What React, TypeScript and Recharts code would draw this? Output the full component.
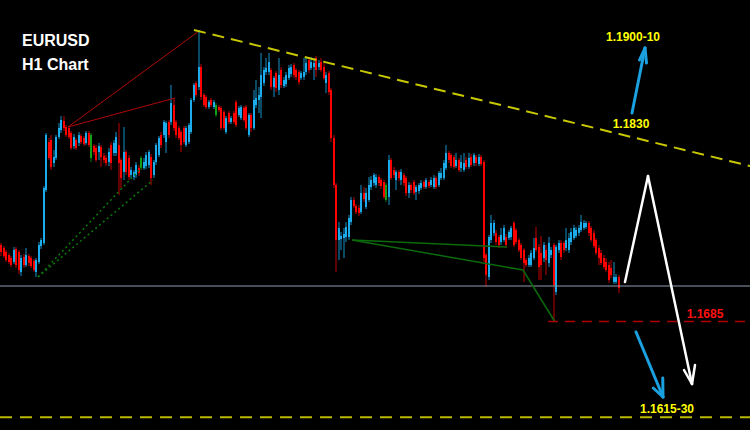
import React from 'react';
import { ComposedChart, Bar, XAxis, YAxis, ReferenceLine, ReferenceDot } from 'recharts';

// EURUSD H1 candles (price), one entry per hour
const candleOpen = [
  1.17385, 1.17364, 1.17336, 1.17315, 1.17294, 1.17266, 1.17357, 1.17336, 1.17196, 1.17301,
  1.17245, 1.17308, 1.17294, 1.17273, 1.17196, 1.17266, 1.17378, 1.17399, 1.17770, 1.18106,
  1.18120, 1.17959, 1.17994, 1.18141, 1.18190, 1.18253, 1.18211, 1.18204, 1.18169, 1.18078,
  1.18120, 1.18099, 1.18148, 1.18134, 1.18099, 1.18169, 1.17994, 1.18078, 1.18064, 1.18036,
  1.18071, 1.18008, 1.17994, 1.17966, 1.18085, 1.18029, 1.18029, 1.18085, 1.17980, 1.17896,
  1.18036, 1.17994, 1.17875, 1.17861, 1.17875, 1.17924, 1.17924, 1.17924, 1.17938, 1.17945,
  1.18001, 1.17875, 1.17966, 1.18015, 1.18155, 1.18155, 1.18106, 1.18246, 1.18246, 1.18365,
  1.18246, 1.18204, 1.18176, 1.18204, 1.18085, 1.18106, 1.18176, 1.18400, 1.18519, 1.18491,
  1.18631, 1.18435, 1.18421, 1.18351, 1.18400, 1.18351, 1.18295, 1.18351, 1.18344, 1.18316,
  1.18176, 1.18309, 1.18246, 1.18309, 1.18386, 1.18295, 1.18274, 1.18344, 1.18351, 1.18155,
  1.18295, 1.18204, 1.18365, 1.18400, 1.18421, 1.18519, 1.18596, 1.18596, 1.18610, 1.18491,
  1.18589, 1.18470, 1.18610, 1.18498, 1.18512, 1.18554, 1.18582, 1.18645, 1.18610, 1.18596,
  1.18554, 1.18561, 1.18596, 1.18680, 1.18624, 1.18631, 1.18694, 1.18631, 1.18666, 1.18631,
  1.18519, 1.18589, 1.18470, 1.18134, 1.17805, 1.17420, 1.17427, 1.17434, 1.17441, 1.17441,
  1.17546, 1.17700, 1.17658, 1.17644, 1.17616, 1.17749, 1.17651, 1.17700, 1.17791, 1.17819,
  1.17805, 1.17861, 1.17840, 1.17826, 1.17700, 1.17721, 1.17980, 1.17910, 1.17840, 1.17896,
  1.17840, 1.17875, 1.17854, 1.17749, 1.17805, 1.17826, 1.17756, 1.17763, 1.17784, 1.17826,
  1.17791, 1.17826, 1.17805, 1.17791, 1.17854, 1.17805, 1.17854, 1.17854, 1.17924, 1.18029,
  1.18015, 1.18001, 1.17938, 1.17980, 1.17924, 1.17910, 1.17980, 1.17931, 1.18001, 1.17959,
  1.18001, 1.17952, 1.18001, 1.17966, 1.17315, 1.17161, 1.17420, 1.17469, 1.17469, 1.17441,
  1.17406, 1.17420, 1.17441, 1.17434, 1.17441, 1.17539, 1.17490, 1.17420, 1.17385, 1.17350,
  1.17280, 1.17245, 1.17245, 1.17294, 1.17434, 1.17371, 1.17329, 1.17294, 1.17350, 1.17259,
  1.17315, 1.17385, 1.17056, 1.17350, 1.17399, 1.17399, 1.17364, 1.17350, 1.17406, 1.17434,
  1.17448, 1.17469, 1.17490, 1.17504, 1.17511, 1.17539, 1.17504, 1.17469, 1.17420, 1.17364,
  1.17329, 1.17294, 1.17266, 1.17245, 1.17224, 1.17126, 1.17126, 1.17161,
];

const candleHigh = [
  1.17399, 1.17378, 1.17350, 1.17329, 1.17308, 1.17371, 1.17371, 1.17350, 1.17315, 1.17322,
  1.17364, 1.17322, 1.17308, 1.17287, 1.17294, 1.17406, 1.17434, 1.17798, 1.18169, 1.18134,
  1.18155, 1.18050, 1.18155, 1.18239, 1.18288, 1.18288, 1.18225, 1.18211, 1.18183, 1.18162,
  1.18134, 1.18176, 1.18162, 1.18148, 1.18183, 1.18183, 1.18169, 1.18092, 1.18085, 1.18099,
  1.18085, 1.18029, 1.18015, 1.18064, 1.18106, 1.18120, 1.18176, 1.18239, 1.17994, 1.18211,
  1.18050, 1.18015, 1.17931, 1.17910, 1.17966, 1.17945, 1.18008, 1.17994, 1.18036, 1.18050,
  1.18022, 1.17980, 1.18099, 1.18148, 1.18176, 1.18260, 1.18253, 1.18260, 1.18505, 1.18414,
  1.18260, 1.18218, 1.18190, 1.18218, 1.18218, 1.18239, 1.18414, 1.18519, 1.18533, 1.18890,
  1.18652, 1.18449, 1.18435, 1.18400, 1.18414, 1.18400, 1.18379, 1.18365, 1.18358, 1.18330,
  1.18288, 1.18323, 1.18288, 1.18323, 1.18400, 1.18358, 1.18365, 1.18358, 1.18365, 1.18309,
  1.18309, 1.18470, 1.18540, 1.18491, 1.18729, 1.18631, 1.18694, 1.18729, 1.18624, 1.18568,
  1.18603, 1.18694, 1.18631, 1.18561, 1.18596, 1.18645, 1.18652, 1.18659, 1.18624, 1.18610,
  1.18603, 1.18694, 1.18694, 1.18701, 1.18701, 1.18694, 1.18708, 1.18680, 1.18694, 1.18659,
  1.18596, 1.18603, 1.18484, 1.18155, 1.17819, 1.17546, 1.17476, 1.17504, 1.17546, 1.17595,
  1.17721, 1.17721, 1.17672, 1.17665, 1.17805, 1.17791, 1.17784, 1.17861, 1.17868, 1.17889,
  1.17882, 1.17875, 1.17854, 1.17840, 1.17819, 1.18015, 1.17994, 1.17931, 1.17910, 1.17910,
  1.17917, 1.17889, 1.17868, 1.17826, 1.17819, 1.17840, 1.17805, 1.17819, 1.17840, 1.17840,
  1.17854, 1.17840, 1.17861, 1.17875, 1.17868, 1.17903, 1.17924, 1.17980, 1.18085, 1.18043,
  1.18029, 1.18015, 1.18029, 1.17994, 1.18015, 1.18029, 1.18001, 1.18029, 1.18022, 1.18029,
  1.18015, 1.18022, 1.18015, 1.17980, 1.17329, 1.17455, 1.17595, 1.17560, 1.17490, 1.17455,
  1.17504, 1.17525, 1.17462, 1.17490, 1.17518, 1.17553, 1.17504, 1.17434, 1.17399, 1.17364,
  1.17294, 1.17315, 1.17350, 1.17434, 1.17511, 1.17392, 1.17448, 1.17406, 1.17385, 1.17441,
  1.17371, 1.17399, 1.17385, 1.17420, 1.17420, 1.17413, 1.17504, 1.17469, 1.17504, 1.17525,
  1.17511, 1.17525, 1.17595, 1.17560, 1.17553, 1.17553, 1.17518, 1.17490, 1.17434, 1.17385,
  1.17350, 1.17315, 1.17294, 1.17266, 1.17280, 1.17266, 1.17182, 1.17175,
];

const candleLow = [
  1.17308, 1.17294, 1.17266, 1.17252, 1.17231, 1.17252, 1.17224, 1.17182, 1.17168, 1.17224,
  1.17231, 1.17238, 1.17224, 1.17196, 1.17161, 1.17252, 1.17357, 1.17385, 1.17756, 1.17980,
  1.17910, 1.17931, 1.17980, 1.18127, 1.18169, 1.18183, 1.18141, 1.18127, 1.18050, 1.18057,
  1.18050, 1.18078, 1.18092, 1.18078, 1.18085, 1.18071, 1.17966, 1.18015, 1.17966, 1.17980,
  1.17931, 1.17959, 1.17938, 1.17938, 1.17910, 1.18008, 1.18008, 1.17735, 1.17784, 1.17840,
  1.17875, 1.17840, 1.17854, 1.17840, 1.17854, 1.17868, 1.17910, 1.17910, 1.17917, 1.17924,
  1.17805, 1.17854, 1.17945, 1.18001, 1.18064, 1.18134, 1.18029, 1.18134, 1.18225, 1.18183,
  1.18134, 1.18120, 1.18036, 1.18092, 1.18071, 1.18092, 1.18162, 1.18386, 1.18421, 1.18470,
  1.18400, 1.18351, 1.18337, 1.18337, 1.18351, 1.18337, 1.18281, 1.18316, 1.18190, 1.18190,
  1.18162, 1.18232, 1.18232, 1.18232, 1.18211, 1.18281, 1.18260, 1.18246, 1.18190, 1.18141,
  1.18176, 1.18190, 1.18344, 1.18309, 1.18274, 1.18498, 1.18575, 1.18575, 1.18470, 1.18421,
  1.18456, 1.18435, 1.18484, 1.18484, 1.18491, 1.18540, 1.18561, 1.18554, 1.18540, 1.18505,
  1.18540, 1.18540, 1.18575, 1.18589, 1.18610, 1.18540, 1.18561, 1.18610, 1.18596, 1.18540,
  1.18449, 1.18435, 1.18106, 1.17784, 1.17196, 1.17280, 1.17350, 1.17294, 1.17406, 1.17420,
  1.17525, 1.17644, 1.17602, 1.17588, 1.17602, 1.17686, 1.17637, 1.17686, 1.17770, 1.17798,
  1.17784, 1.17798, 1.17777, 1.17707, 1.17686, 1.17665, 1.17840, 1.17854, 1.17770, 1.17833,
  1.17805, 1.17798, 1.17728, 1.17714, 1.17749, 1.17735, 1.17700, 1.17742, 1.17770, 1.17777,
  1.17777, 1.17784, 1.17791, 1.17777, 1.17777, 1.17791, 1.17840, 1.17840, 1.17910, 1.17959,
  1.17924, 1.17917, 1.17924, 1.17896, 1.17896, 1.17896, 1.17917, 1.17917, 1.17931, 1.17938,
  1.17938, 1.17938, 1.17938, 1.17266, 1.17091, 1.17140, 1.17399, 1.17448, 1.17385, 1.17364,
  1.17385, 1.17406, 1.17364, 1.17420, 1.17420, 1.17371, 1.17392, 1.17336, 1.17280, 1.17126,
  1.17231, 1.17231, 1.17231, 1.17280, 1.17336, 1.17140, 1.17140, 1.17266, 1.17175, 1.17231,
  1.17294, 1.16846, 1.17035, 1.17329, 1.17280, 1.17329, 1.17343, 1.17329, 1.17385, 1.17420,
  1.17434, 1.17448, 1.17476, 1.17490, 1.17497, 1.17448, 1.17406, 1.17364, 1.17315, 1.17245,
  1.17245, 1.17217, 1.17196, 1.17119, 1.17154, 1.17112, 1.17112, 1.17049,
];

const candleClose = [
  1.17336, 1.17308, 1.17280, 1.17266, 1.17245, 1.17350, 1.17245, 1.17210, 1.17294, 1.17245,
  1.17315, 1.17259, 1.17238, 1.17210, 1.17280, 1.17385, 1.17420, 1.17784, 1.18155, 1.17994,
  1.17931, 1.18001, 1.18141, 1.18204, 1.18260, 1.18204, 1.18155, 1.18141, 1.18064, 1.18141,
  1.18064, 1.18155, 1.18106, 1.18092, 1.18169, 1.18085, 1.18155, 1.18036, 1.17980, 1.18078,
  1.18001, 1.17980, 1.17959, 1.18036, 1.17959, 1.18099, 1.18141, 1.17959, 1.17854, 1.18036,
  1.17896, 1.17861, 1.17910, 1.17896, 1.17945, 1.17889, 1.17994, 1.17966, 1.18015, 1.18036,
  1.17854, 1.17966, 1.18085, 1.18134, 1.18085, 1.18246, 1.18239, 1.18155, 1.18379, 1.18204,
  1.18155, 1.18134, 1.18085, 1.18106, 1.18204, 1.18225, 1.18400, 1.18505, 1.18435, 1.18631,
  1.18421, 1.18365, 1.18351, 1.18386, 1.18365, 1.18386, 1.18365, 1.18330, 1.18204, 1.18204,
  1.18274, 1.18246, 1.18274, 1.18246, 1.18225, 1.18344, 1.18351, 1.18260, 1.18204, 1.18295,
  1.18204, 1.18400, 1.18414, 1.18435, 1.18575, 1.18610, 1.18624, 1.18666, 1.18491, 1.18554,
  1.18484, 1.18575, 1.18505, 1.18540, 1.18575, 1.18624, 1.18631, 1.18575, 1.18561, 1.18526,
  1.18589, 1.18596, 1.18659, 1.18610, 1.18666, 1.18659, 1.18610, 1.18659, 1.18610, 1.18554,
  1.18575, 1.18456, 1.18134, 1.17805, 1.17420, 1.17504, 1.17448, 1.17462, 1.17511, 1.17574,
  1.17700, 1.17658, 1.17616, 1.17609, 1.17749, 1.17707, 1.17749, 1.17805, 1.17840, 1.17875,
  1.17861, 1.17819, 1.17798, 1.17721, 1.17805, 1.17980, 1.17854, 1.17875, 1.17896, 1.17854,
  1.17896, 1.17819, 1.17749, 1.17805, 1.17770, 1.17749, 1.17791, 1.17805, 1.17819, 1.17791,
  1.17840, 1.17798, 1.17840, 1.17854, 1.17791, 1.17889, 1.17889, 1.17959, 1.18029, 1.17980,
  1.17938, 1.17931, 1.17980, 1.17910, 1.17966, 1.17959, 1.17931, 1.17994, 1.17945, 1.18015,
  1.17959, 1.18001, 1.17952, 1.17294, 1.17175, 1.17441, 1.17539, 1.17539, 1.17406, 1.17385,
  1.17455, 1.17504, 1.17385, 1.17476, 1.17504, 1.17385, 1.17406, 1.17350, 1.17294, 1.17259,
  1.17245, 1.17294, 1.17329, 1.17364, 1.17350, 1.17231, 1.17245, 1.17385, 1.17280, 1.17399,
  1.17350, 1.17105, 1.17371, 1.17399, 1.17301, 1.17350, 1.17420, 1.17434, 1.17476, 1.17504,
  1.17490, 1.17504, 1.17546, 1.17539, 1.17539, 1.17469, 1.17420, 1.17378, 1.17329, 1.17294,
  1.17259, 1.17231, 1.17210, 1.17140, 1.17175, 1.17161, 1.17161, 1.17084,
];

// candles painted green by the chart's indicator
const greenCandles = [36, 56, 86, 154];

// hand-drawn analysis objects (x = candle index, y = price)
const trendResistance = [{ x: 77.0, y: 1.1889 }, { x: 299.4, y: 1.17938 }];
const redFanUpper = [{ x: 26.6, y: 1.18211 }, { x: 79.0, y: 1.18883 }];
const redFanLower = [{ x: 26.6, y: 1.18211 }, { x: 69.4, y: 1.18414 }];
const greenDottedUpper = [{ x: 14.6, y: 1.17161 }, { x: 56.2, y: 1.17931 }];
const greenDottedLower = [{ x: 14.6, y: 1.17161 }, { x: 60.6, y: 1.1784 }];
const greenSolidUpper = [{ x: 140.2, y: 1.1742 }, { x: 202.2, y: 1.17371 }];
const greenSolidLower = [
  { x: 140.2, y: 1.1742 },
  { x: 208.6, y: 1.1721 },
  { x: 221.4, y: 1.16846 },
];
const supportLevel = 1.17098;
const targetLevel = [{ x: 218.6, y: 1.1685 }, { x: 297.8, y: 1.1685 }];
const lowerTargetLevel = 1.1618;
const whitePath = [
  { x: 249.4, y: 1.17126 },
  { x: 258.6, y: 1.17868 },
  { x: 276.2, y: 1.16412 },
];
const whiteHead = [{ x: 273.0, y: 1.1651 }, { x: 277.4, y: 1.16545 }];
const blueUpArrow = [{ x: 252.2, y: 1.18309 }, { x: 257.4, y: 1.18764 }];
const blueUpHead = [{ x: 255.2, y: 1.1868 }, { x: 258.0, y: 1.18659 }];
const blueDownArrow = [{ x: 253.8, y: 1.16776 }, { x: 264.6, y: 1.16321 }];
const blueDownHead = [{ x: 260.7, y: 1.16384 }, { x: 264.5, y: 1.16454 }];

const priceLabels = [
  { text: '1.1900-10', x: 252.6, y: 1.18841, color: '#FFFF00' },
  { text: '1.1830', x: 251.8, y: 1.18232, color: '#FFFF00' },
  { text: '1.1685', x: 281.4, y: 1.16902, color: '#FF1010' },
  { text: '1.1615-30', x: 266.2, y: 1.16237, color: '#FFFF00' },
];

const candles = candleOpen.map((open, i) => ({
  i,
  open,
  high: candleHigh[i],
  low: candleLow[i],
  close: candleClose[i],
  green: greenCandles.includes(i),
  range: [candleLow[i], candleHigh[i]],
}));

const FONT = '"Liberation Sans", Arial, Helvetica, sans-serif';

const CandleShape = (props: any) => {
  const { x, y, width, height } = props;
  const d = props.payload ?? props;
  if (x == null || y == null || height == null || d == null) return null;
  const top = Math.min(y, y + height);
  const bottom = Math.max(y, y + height);
  const span = d.high - d.low || 1;
  const toY = (v: number) => top + ((d.high - v) / span) * (bottom - top);
  const cx = x + width / 2;
  const left = Math.round(cx - 1);
  const wickX = left + 1;
  const bodyTop = toY(Math.max(d.open, d.close));
  const bodyBot = toY(Math.min(d.open, d.close));
  const bull = d.close >= d.open;
  const body = d.green ? '#14A014' : bull ? '#1CACEC' : '#FF0000';
  const wick = d.green ? '#0E780E' : bull ? '#1592C8' : '#C00000';
  return (
    <g>
      <line x1={wickX} x2={wickX} y1={top} y2={bottom} stroke={wick} strokeWidth={1} />
      <rect x={left} y={bodyTop} width={2} height={Math.max(1, bodyBot - bodyTop)} fill={body} />
    </g>
  );
};

const seg = (pts: { x: number; y: number }[]) =>
  pts.slice(1).map((p, k) => [pts[k], p] as [{ x: number; y: number }, { x: number; y: number }]);

export default function App() {
  const lines: React.ReactNode[] = [];
  const addPath = (pts: { x: number; y: number }[], style: any, key: string) => {
    seg(pts).forEach((s, k) => {
      lines.push(<ReferenceLine key={`${key}-${k}`} segment={s} ifOverflow="visible" {...style} />);
    });
  };
  const addHead = (tip: { x: number; y: number }, arms: { x: number; y: number }[], style: any, key: string) => {
    arms.forEach((a, k) => {
      lines.push(<ReferenceLine key={`${key}-h${k}`} segment={[a, tip]} ifOverflow="visible" {...style} />);
    });
  };

  addPath(greenDottedUpper, { stroke: '#0A7A0A', strokeWidth: 1.5, strokeDasharray: '2 3' }, 'gd1');
  addPath(greenDottedLower, { stroke: '#0A7A0A', strokeWidth: 1.5, strokeDasharray: '2 3' }, 'gd2');
  addPath(redFanUpper, { stroke: '#B00808', strokeWidth: 1 }, 'rf1');
  addPath(redFanLower, { stroke: '#B00808', strokeWidth: 1 }, 'rf2');
  addPath(greenSolidUpper, { stroke: '#0B6A0B', strokeWidth: 1.5 }, 'gs1');
  addPath(greenSolidLower, { stroke: '#0B6A0B', strokeWidth: 1.5 }, 'gs2');
  addPath(trendResistance, { stroke: '#C8C800', strokeWidth: 2, strokeDasharray: '12 7' }, 'tr');
  addPath(targetLevel, { stroke: '#B00000', strokeWidth: 1.5, strokeDasharray: '10 7' }, 'tl');

  const arrowWhite = { stroke: '#FFFFFF', strokeWidth: 2.5, strokeLinecap: 'round' };
  const arrowBlue = { stroke: '#1BA0E0', strokeWidth: 3, strokeLinecap: 'round' };
  addPath(whitePath, arrowWhite, 'wp');
  addHead(whitePath[whitePath.length - 1], whiteHead, arrowWhite, 'wh');
  addPath(blueUpArrow, arrowBlue, 'bu');
  addHead(blueUpArrow[1], blueUpHead, arrowBlue, 'buh');
  addPath(blueDownArrow, arrowBlue, 'bd');
  addHead(blueDownArrow[1], blueDownHead, arrowBlue, 'bdh');

  return (
    <div
      style={{
        position: 'fixed',
        left: 0,
        top: 0,
        width: 750,
        height: 430,
        background: '#000000',
        overflow: 'hidden',
      }}
    >
      <ComposedChart
        width={750}
        height={430}
        data={candles}
        margin={{ top: 0, right: 0, bottom: 0, left: 0 }}
      >
        <XAxis type="number" dataKey="i" domain={[-0.6, 299.4]} hide allowDataOverflow />
        <YAxis type="number" domain={[1.1609, 1.191]} hide allowDataOverflow />
        <ReferenceLine y={supportLevel} stroke="#8E9DB2" strokeWidth={1} ifOverflow="visible" />
        <ReferenceLine
          y={lowerTargetLevel}
          stroke="#B8B800"
          strokeWidth={2}
          strokeDasharray="12 8"
          ifOverflow="visible"
        />
        {lines}
        <Bar
          dataKey="range"
          barSize={2}
          isAnimationActive={false}
          shape={(p: any) => <CandleShape {...p} />}
        />
        {priceLabels.map((l) => (
          <ReferenceDot
            key={l.text}
            x={l.x}
            y={l.y}
            r={0}
            fill="none"
            stroke="none"
            ifOverflow="visible"
            label={{
              value: l.text,
              position: 'center',
              fill: l.color,
              fontSize: 12,
              fontWeight: 700,
              fontFamily: FONT,
            }}
          />
        ))}
      </ComposedChart>
      <div
        style={{
          position: 'absolute',
          left: 22,
          top: 33,
          color: '#FFFFFF',
          fontFamily: FONT,
          fontWeight: 700,
          fontSize: 16,
          lineHeight: '16px',
        }}
      >
        EURUSD
      </div>
      <div
        style={{
          position: 'absolute',
          left: 22,
          top: 57,
          color: '#FFFFFF',
          fontFamily: FONT,
          fontWeight: 700,
          fontSize: 16,
          lineHeight: '16px',
        }}
      >
        H1 Chart
      </div>
    </div>
  );
}
